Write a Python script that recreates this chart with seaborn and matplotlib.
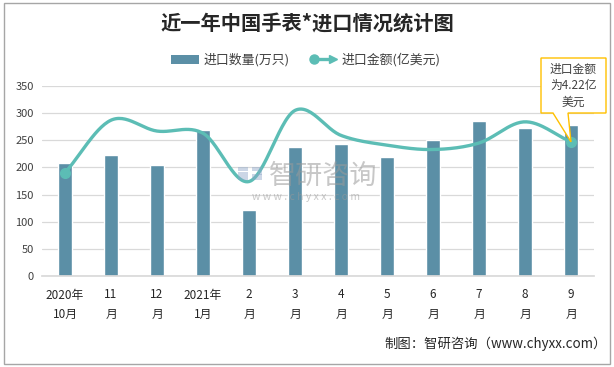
import numpy as np
import pandas as pd
import seaborn as sns
import matplotlib.pyplot as plt
from matplotlib.patches import Rectangle, Polygon, Patch
from matplotlib.lines import Line2D
from matplotlib.legend_handler import HandlerBase

categories = ["2020年\n10月", "11\n月", "12\n月", "2021年\n1月", "2\n月", "3\n月",
              "4\n月", "5\n月", "6\n月", "7\n月", "8\n月", "9\n月"]
import_qty = [208, 223, 205, 269, 122, 238, 243, 219, 250, 285, 272, 278]
import_value = [190, 287, 267, 263, 174, 305, 259, 241, 233, 245, 284, 247]
yticks = [0, 50, 100, 150, 200, 250, 300, 350]
qty_label = "进口数量(万只)"
value_label = "进口金额(亿美元)"
title = "近一年中国手表*进口情况统计图"
callout = "进口金额\n为4.22亿\n美元"
source = "制图：智研咨询（www.chyxx.com）"

BAR = "#5B8FA6"
LINE = "#5CBDB5"

sns.set_theme(style="white")
plt.rcParams['font.family'] = ['Noto Sans CJK SC', 'DejaVu Sans']

W, H = 614, 367
fig = plt.figure(figsize=(W / 100, H / 100), dpi=100)
ax = fig.add_axes([42 / W, 1 - 276 / H, 552 / W, 190 / H])

df = pd.DataFrame({"cat": categories, "qty": import_qty})
sns.barplot(data=df, x="cat", y="qty", color=BAR, width=0.3, saturation=1, ax=ax, zorder=2)

# smooth (Catmull-Rom) curve through the value points
xs = np.arange(len(import_value), dtype=float)
ys = np.array(import_value, dtype=float)
px = np.concatenate([[2 * xs[0] - xs[1]], xs, [2 * xs[-1] - xs[-2]]])
py = np.concatenate([[2 * ys[0] - ys[1]], ys, [2 * ys[-1] - ys[-2]]])
cx, cy = [], []
for i in range(1, len(px) - 2):
    t = np.linspace(0, 1, 30)
    m0 = (py[i + 1] - py[i - 1]) / 2
    m1 = (py[i + 2] - py[i]) / 2
    h00 = 2 * t**3 - 3 * t**2 + 1
    h10 = t**3 - 2 * t**2 + t
    h01 = -2 * t**3 + 3 * t**2
    h11 = t**3 - t**2
    cy.append(h00 * py[i] + h10 * m0 + h01 * py[i + 1] + h11 * m1)
    cx.append(px[i] + t * (px[i + 1] - px[i]))
cx = np.concatenate(cx)
cy = np.concatenate(cy)
ax.plot(cx, cy, color=LINE, lw=2.4, zorder=3, solid_capstyle='round')
ax.plot([xs[0], xs[-1]], [ys[0], ys[-1]], 'o', color=LINE, ms=7, zorder=4)

ax.set_ylim(0, 350)
ax.set_xlim(-0.5, len(categories) - 0.5)
ax.set_yticks(yticks)
ax.yaxis.grid(True, color="#D9D9D9", lw=0.9)
ax.set_axisbelow(True)
ax.tick_params(axis='y', length=0, labelsize=8, labelcolor="#404040", pad=6)
ax.tick_params(axis='x', length=0, labelsize=8.5, labelcolor="#262626", pad=9)
ax.set_xlabel("")
ax.set_ylabel("")
for s in ["top", "right", "left"]:
    ax.spines[s].set_visible(False)
ax.spines["bottom"].set_color("#D9D9D9")
for lab in ax.get_xticklabels():
    lab.set_linespacing(1.65)

# title
fig.text(307 / W, 1 - 23 / H, title, ha='center', va='center', fontsize=14.6,
         fontweight='bold', color="#262626")


# legend
class CircleArrowHandler(HandlerBase):
    def create_artists(self, legend, orig, xd, yd, width, height, fontsize, trans):
        y = yd + height / 2
        ln = Line2D([xd + 2, xd + width - 3], [y, y], color=LINE, lw=2.4, transform=trans)
        c = Line2D([xd + 3], [y], marker='o', ms=6.5, color=LINE, lw=0, transform=trans)
        a = Line2D([xd + width - 3], [y], marker='>', ms=6, color=LINE, lw=0, transform=trans)
        return [ln, c, a]


line_handle = Line2D([0], [0], color=LINE)
handles = [Patch(facecolor=BAR, edgecolor='none'), line_handle]
fig.legend(handles, [qty_label, value_label], loc='center', ncol=2,
           bbox_to_anchor=(306 / W, 1 - 60 / H), frameon=False, fontsize=9.3,
           handlelength=2.1, columnspacing=1.6, handletextpad=0.35,
           labelcolor="#404040", handler_map={line_handle: CircleArrowHandler()})

# watermark
wm_color = "#9A9A9A"
for (x0, y0, w, h) in [(238, 167, 10, 4), (252, 167, 10, 4), (258, 171, 4, 4),
                       (252, 174, 10, 3), (238, 172, 10, 8), (252, 177, 10, 3)]:
    fig.add_artist(Rectangle((x0 / W, 1 - (y0 + h) / H), w / W, h / H,
                             transform=fig.transFigure, facecolor="#8FA6C8",
                             edgecolor='none', alpha=0.45))
fig.text(323 / W, 1 - 176 / H, "智研咨询", ha='center', va='center', fontsize=19.5,
         color=wm_color, alpha=0.55)
fig.text(306 / W, 1 - 197 / H, "w w w . c h y x x . c o m", ha='center', va='center',
         fontsize=7.5, color=wm_color, alpha=0.55)

# callout box
fig.canvas.draw()
tip = ax.transData.transform((xs[-1], ys[-1]))
tipf = fig.transFigure.inverted().transform(tip)
bx0, bx1, by0, by1 = 541 / W, 606 / W, 1 - 113 / H, 1 - 58 / H
poly = Polygon([(bx0, by0), (bx0, by1), (bx1, by1), (bx1, by0),
                (568 / W, by0), (tipf[0], tipf[1]), (553 / W, by0)],
               closed=True, transform=fig.transFigure, facecolor='white',
               edgecolor="#FFC000", lw=1.0, zorder=10)
fig.add_artist(poly)
fig.text((bx0 + bx1) / 2, (by0 + by1) / 2, callout, ha='center', va='center',
         fontsize=8.5, color="#404040", linespacing=1.35, zorder=11)

# source
fig.text(607 / W, 1 - 344 / H, source, ha='right', va='center', fontsize=9.6,
         color="#262626")

# outer border
fig.add_artist(Rectangle((4 / W, 3 / H), 606 / W, 361 / H, transform=fig.transFigure,
                         fill=False, edgecolor="#A6A6A6", lw=1.0))

fig.savefig("out.png", dpi=100)
